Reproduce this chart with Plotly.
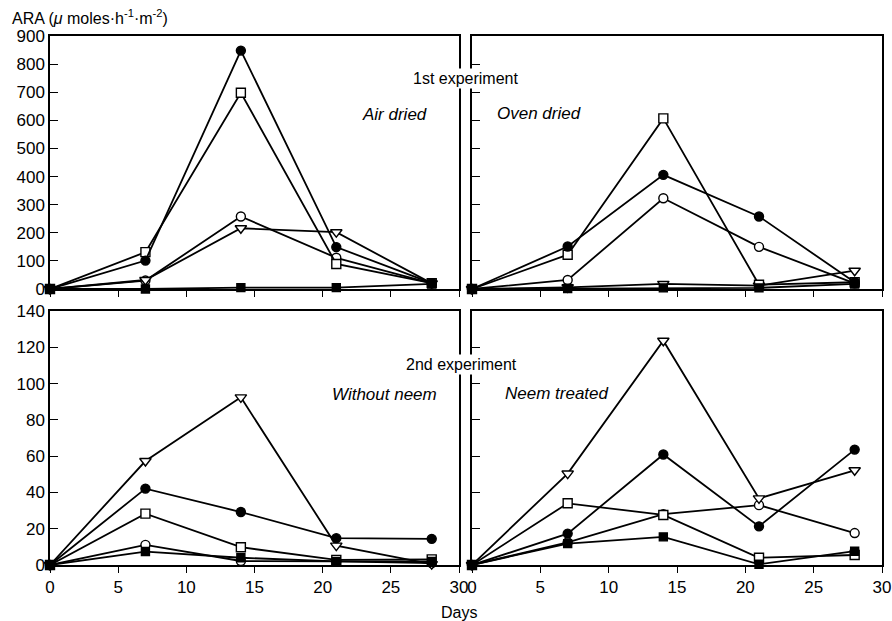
import plotly.graph_objects as go

W, H = 892, 621

days = [0, 7, 14, 21, 28]

# 1st experiment - Air dried
air_filled_circle = [0, 101, 848, 149, 21]
air_open_square = [0, 131, 698, 89, 21]
air_open_circle = [0, 30, 258, 111, 20]
air_triangle = [0, 32, 216, 202, 20]
air_filled_square = [0, 0, 5, 5, 18]

# 1st experiment - Oven dried
oven_filled_circle = [0, 151, 406, 258, 24]
oven_open_square = [0, 122, 607, 15, 24]
oven_open_circle = [0, 32, 323, 150, 20]
oven_triangle = [0, 6, 18, 12, 65]
oven_filled_square = [0, 2, 4, 4, 18]

# 2nd experiment - Without neem
wn_triangle = [0, 57.3, 92.4, 10.7, 0.5]
wn_filled_circle = [0, 42.1, 29.2, 14.8, 14.4]
wn_open_square = [0, 28.3, 9.8, 2.8, 3.1]
wn_open_circle = [0, 11.1, 2.2, 2.0, 1.0]
wn_filled_square = [0, 7.4, 4.0, 2.0, 2.0]

# 2nd experiment - Neem treated
nt_triangle = [0, 50.4, 123.6, 36.7, 52.2]
nt_filled_circle = [0, 17.3, 60.9, 21.3, 63.6]
nt_open_square = [0, 34.0, 27.6, 4.0, 5.5]
nt_open_circle = [0, 12.5, 28.0, 33.0, 17.6]
nt_filled_square = [0, 11.8, 15.5, 0.4, 7.6]

top_ticks = [0, 100, 200, 300, 400, 500, 600, 700, 800, 900]
bottom_ticks = [0, 20, 40, 60, 80, 100, 120, 140]
x_ticks = [0, 5, 10, 15, 20, 25, 30]

styles = {
    "filled_circle": dict(symbol="circle", color="black", size=9),
    "open_square": dict(symbol="square", color="white", size=9),
    "open_circle": dict(symbol="circle", color="white", size=9),
    "triangle": dict(symbol="triangle-down", color="white", size=10),
    "filled_square": dict(symbol="square", color="black", size=8),
}

panels = [
    ("x", "y", [("open_circle", air_open_circle), ("triangle", air_triangle),
                ("open_square", air_open_square), ("filled_circle", air_filled_circle),
                ("filled_square", air_filled_square)]),
    ("x2", "y2", [("open_circle", oven_open_circle), ("triangle", oven_triangle),
                  ("open_square", oven_open_square), ("filled_circle", oven_filled_circle),
                  ("filled_square", oven_filled_square)]),
    ("x3", "y3", [("open_circle", wn_open_circle), ("triangle", wn_triangle),
                  ("open_square", wn_open_square), ("filled_circle", wn_filled_circle),
                  ("filled_square", wn_filled_square)]),
    ("x4", "y4", [("open_circle", nt_open_circle), ("triangle", nt_triangle),
                  ("open_square", nt_open_square), ("filled_circle", nt_filled_circle),
                  ("filled_square", nt_filled_square)]),
]

fig = go.Figure()
for xa, ya, series in panels:
    for name, vals in series:
        st = styles[name]
        fig.add_trace(go.Scatter(
            x=days, y=vals, xaxis=xa, yaxis=ya, mode="lines+markers", name=name,
            line=dict(color="black", width=1.8),
            marker=dict(symbol=st["symbol"], color=st["color"], size=st["size"],
                        line=dict(color="black", width=1.4)),
            cliponaxis=False, showlegend=False,
        ))

def px_x(p):
    return p / W

def px_y(p):
    return 1 - p / H

left_dom = [px_x(50), px_x(459)]
right_dom = [px_x(472), px_x(882)]
top_dom = [px_y(289), px_y(36)]
bot_dom = [px_y(565), px_y(311)]

FAM = "Liberation Sans, Arial, sans-serif"
font = dict(family=FAM, size=17, color="black")

def xaxis(dom, anchor, labels):
    return dict(domain=dom, anchor=anchor, range=[0, 30], tickvals=x_ticks,
                showticklabels=labels, ticks="outside", ticklen=6, tickwidth=1.3,
                tickcolor="black", showline=True, linecolor="black", linewidth=1.5,
                mirror=True, showgrid=False, zeroline=False, tickfont=font,
                automargin=False)

def yaxis(dom, anchor, rng, tv, labels):
    return dict(domain=dom, anchor=anchor, range=rng, tickvals=tv,
                showticklabels=labels, ticks="inside", ticklen=8, tickwidth=1.3,
                tickcolor="black", showline=True, linecolor="black", linewidth=1.5,
                mirror=True, showgrid=False, zeroline=False, tickfont=font,
                automargin=False)

fig.update_layout(
    width=W, height=H,
    margin=dict(l=0, r=0, t=0, b=0, autoexpand=False),
    paper_bgcolor="white", plot_bgcolor="white",
    font=font,
    xaxis=xaxis(left_dom, "y", False),
    yaxis=yaxis(top_dom, "x", [0, 900], top_ticks, True),
    xaxis2=xaxis(right_dom, "y2", False),
    yaxis2=yaxis(top_dom, "x2", [0, 900], top_ticks, False),
    xaxis3=xaxis(left_dom, "y3", True),
    yaxis3=yaxis(bot_dom, "x3", [0, 140], bottom_ticks, True),
    xaxis4=xaxis(right_dom, "y4", True),
    yaxis4=yaxis(bot_dom, "x4", [0, 140], bottom_ticks, False),
)

def ann(text, x, y, xanchor="left", size=15, italic=False, bg=None):
    t = f"<i>{text}</i>" if italic else text
    d = dict(text=t, x=px_x(x), y=px_y(y), xref="paper", yref="paper",
             xanchor=xanchor, yanchor="middle", showarrow=False,
             font=dict(family=FAM, size=size, color="black"))
    if bg:
        d["bgcolor"] = bg
    fig.add_annotation(**d)

ann("ARA (<i>μ</i> moles·h<sup>-1</sup>·m<sup>-2</sup>)", 10, 17, size=16)
ann("1st experiment", 466, 78, xanchor="center", size=16, bg="white")
ann("2nd experiment", 461, 364, xanchor="center", size=16, bg="white")
ann("Air dried", 360, 114, italic=True, size=17)
ann("Oven dried", 495, 113, italic=True, size=17)
ann("Without neem", 330, 394, italic=True, size=17)
ann("Neem treated", 503, 393, italic=True, size=17)
ann("Days", 459, 612, xanchor="center", size=16)

fig.write_html("out.html", config={"displayModeBar": False},
               post_script="document.body.style.margin='0px';document.body.style.overflow='hidden';")
